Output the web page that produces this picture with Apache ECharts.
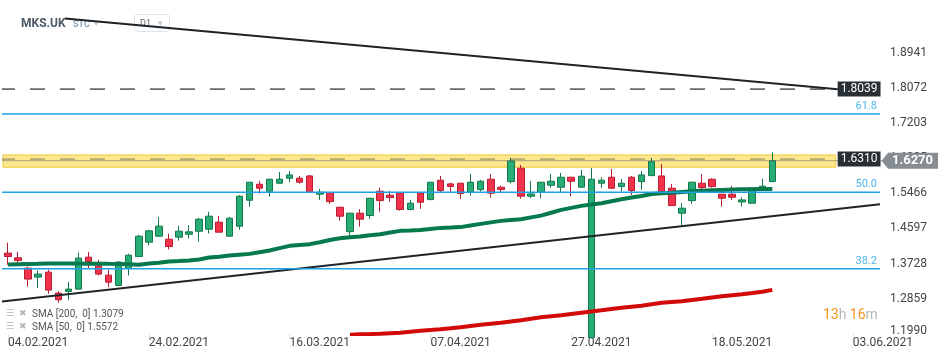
<!DOCTYPE html>
<html><head><meta charset="utf-8">
<script src="https://cdn.jsdelivr.net/npm/echarts@6/dist/echarts.min.js"></script>
<style>html,body{margin:0;padding:0;background:#fff}#c{width:950px;height:360px}</style>
</head><body><div id="c"></div>
<script>
// ---------- DATA ----------
const dates = [
'04.02.2021','05.02.2021','08.02.2021','09.02.2021','10.02.2021','11.02.2021','12.02.2021','15.02.2021','16.02.2021','17.02.2021','18.02.2021','19.02.2021','22.02.2021','23.02.2021','24.02.2021','25.02.2021','26.02.2021',
'01.03.2021','02.03.2021','03.03.2021','04.03.2021','05.03.2021','08.03.2021','09.03.2021','10.03.2021','11.03.2021','12.03.2021','15.03.2021','16.03.2021','17.03.2021','18.03.2021','19.03.2021','22.03.2021','23.03.2021','24.03.2021','25.03.2021','26.03.2021','29.03.2021','30.03.2021','31.03.2021',
'01.04.2021','06.04.2021','07.04.2021','08.04.2021','09.04.2021','12.04.2021','13.04.2021','14.04.2021','15.04.2021','16.04.2021','19.04.2021','20.04.2021','21.04.2021','22.04.2021','23.04.2021','26.04.2021','27.04.2021','28.04.2021','29.04.2021','30.04.2021',
'04.05.2021','05.05.2021','06.05.2021','07.05.2021','10.05.2021','11.05.2021','12.05.2021','13.05.2021','14.05.2021','17.05.2021','18.05.2021','19.05.2021','20.05.2021','21.05.2021','24.05.2021','25.05.2021','26.05.2021',
'27.05.2021','28.05.2021','29.05.2021','30.05.2021','31.05.2021','01.06.2021','02.06.2021','03.06.2021','04.06.2021','05.06.2021','06.06.2021'
];
const dateLabels = ['04.02.2021','24.02.2021','16.03.2021','07.04.2021','27.04.2021','18.05.2021','03.06.2021'];
// [open, close, low, high]
const candles = [
[1.3988,1.3904,1.3699,1.4248],[1.3871,1.3804,1.3723,1.4019],[1.3617,1.3346,1.3162,1.3657],[1.3395,1.3469,1.3124,1.3558],
[1.3518,1.3074,1.2983,1.3575],[1.3000,1.2835,1.2761,1.3049],[1.3041,1.3099,1.2835,1.3279],[1.3099,1.3864,1.3082,1.4002],
[1.3888,1.3779,1.3617,1.4019],[1.3674,1.3469,1.3440,1.3822],[1.3444,1.3271,1.3148,1.3575],[1.3189,1.3765,1.3181,1.3797],
[1.3607,1.3937,1.3435,1.3970],[1.3902,1.4406,1.3896,1.4439],[1.4258,1.4537,1.4175,1.4562],[1.4406,1.4653,1.4389,1.4883],
[1.4332,1.4150,1.4077,1.4463],[1.4382,1.4530,1.4298,1.4661],[1.4456,1.4513,1.4347,1.4678],[1.4529,1.4825,1.4274,1.4858],
[1.4579,1.4900,1.4470,1.5006],[1.4752,1.4505,1.4500,1.4907],[1.4406,1.4850,1.4389,1.4880],[1.4653,1.5393,1.4562,1.5420],
[1.5294,1.5739,1.5137,1.5745],[1.5689,1.5591,1.5457,1.5771],[1.5516,1.5813,1.5384,1.5820],[1.5714,1.5813,1.5697,1.5993],
[1.5837,1.5919,1.5739,1.6017],[1.5837,1.5739,1.5705,1.5894],[1.5894,1.5492,1.5487,1.5919],[1.5442,1.5492,1.5302,1.5573],
[1.5482,1.5259,1.5203,1.5490],[1.5121,1.4899,1.4792,1.5129],[1.4518,1.4974,1.4384,1.4981],[1.4974,1.4826,1.4643,1.5073],
[1.4917,1.5344,1.4833,1.5351],[1.5517,1.5285,1.5013,1.5606],[1.5418,1.5359,1.5260,1.5524],[1.5475,1.5063,1.5038,1.5480],
[1.5063,1.5220,1.5055,1.5302],[1.5475,1.5245,1.5080,1.5480],[1.5309,1.5739,1.5302,1.5745],[1.5788,1.5531,1.5492,1.5894],
[1.5697,1.5631,1.5492,1.5730],[1.5714,1.5457,1.5327,1.5722],[1.5492,1.5739,1.5408,1.5943],[1.5556,1.5763,1.5507,1.5795],
[1.5813,1.5467,1.5359,1.5943],[1.5615,1.5556,1.5467,1.5648],[1.5753,1.6264,1.5704,1.6345],[1.6084,1.5393,1.5334,1.6166],
[1.5393,1.5450,1.5343,1.5771],[1.5492,1.5739,1.5343,1.5745],[1.5664,1.5763,1.5605,1.5943],[1.5615,1.5862,1.5492,1.5968],
[1.5862,1.5763,1.5393,1.5870],[1.5615,1.5887,1.5610,1.6042],[1.1900,1.5813,1.1880,1.6087],[1.5714,1.5788,1.5598,1.5862],
[1.5862,1.5590,1.5585,1.6067],[1.5630,1.5714,1.5507,1.5820],[1.5862,1.5531,1.5425,1.5894],[1.5754,1.5919,1.5549,1.6017],
[1.5901,1.6247,1.5894,1.6338],[1.5894,1.5507,1.5482,1.6190],[1.5591,1.5161,1.5160,1.5697],[1.4974,1.5097,1.4685,1.5221],
[1.5284,1.5739,1.5203,1.5745],[1.5714,1.5605,1.5507,1.5943],[1.5813,1.5630,1.5605,1.5837],[1.5442,1.5344,1.5137,1.5450],
[1.5442,1.5367,1.5302,1.5648],[1.5253,1.5302,1.5137,1.5368],[1.5220,1.5591,1.5216,1.5598],[1.5581,1.5640,1.5578,1.5820],
[1.5754,1.6270,1.5751,1.6479]
];
const sma50 = [
1.3705,1.3715,1.3720,1.3723,1.3730,1.3730,1.3731,1.3730,1.3728,1.3726,
1.3722,1.3720,1.3712,1.3698,1.3730,1.3752,1.3779,1.3790,1.3804,1.3829,
1.3878,1.3900,1.3927,1.3948,1.3969,1.4010,1.4051,1.4110,1.4167,1.4190,
1.4209,1.4258,1.4310,1.4357,1.4377,1.4396,1.4428,1.4456,1.4497,1.4537,
1.4546,1.4556,1.4585,1.4611,1.4620,1.4630,1.4670,1.4710,1.4747,1.4784,
1.4805,1.4826,1.4870,1.4914,1.4985,1.5055,1.5105,1.5154,1.5188,1.5221,
1.5270,1.5319,1.5360,1.5400,1.5448,1.5465,1.5480,1.5499,1.5515,1.5531,
1.5540,1.5549,1.5556,1.5563,1.5568,1.5571,1.5572
];
const sma200 = [
null,null,null,null,null,null,null,null,null,null,null,null,null,null,null,null,null,
null,null,null,null,null,null,null,null,null,null,null,null,null,null,null,null,null,
1.1972,1.1981,1.1988,1.1996,1.2008,1.2020,1.2045,1.2070,1.2090,1.2107,
1.2130,1.2156,1.2190,1.2218,1.2243,1.2267,1.2298,1.2329,1.2368,1.2403,
1.2430,1.2452,1.2483,1.2514,1.2545,1.2575,1.2606,1.2637,1.2662,1.2687,
1.2725,1.2761,1.2780,1.2798,1.2830,1.2859,1.2890,1.2921,1.2946,1.2970,
1.3000,1.3032,1.3079
];
const yTicks = [1.1990,1.2859,1.3728,1.4597,1.5466,1.6335,1.7203,1.8072,1.8941];
const fibLevels = [61.8, 50.0, 38.2];
const fibPrices = [1.7424, 1.5492, 1.3599];
const resistance = 1.8039;
const zoneLevel = 1.6310;
const zoneTop = 1.6412;
const zoneBottom = 1.6109;
const lastPrice = 1.6270;
const downTrend = [1.9785, 1.8033];
const upTrend = [1.2790, 1.5196];

// ---------- CHART ----------
const N = dates.length;
const XL = -0.8;           // left edge of drawings (index units)
const showDate = (i, v) => dateLabels.indexOf(v) >= 0;
const boxLabel = (txt, bg, extra) => Object.assign({
  show:true, formatter: txt, backgroundColor: bg, color:'#fff', fontSize:12,
  fontFamily:'Roboto', padding:[2,3,1,3], distance:10
}, extra || {});
const hline = (y, x1, style, more) => Object.assign({
  type:'line', xAxisIndex:1, symbol:'none', silent:true, clip:false, z:3,
  data:[[XL,y],[x1,y]], lineStyle:style
}, more || {});

const series = [
  {type:'candlestick', data:candles, barWidth:7, z:2, clip:true,
   itemStyle:{color:'#27ad75', color0:'#f2314b', borderColor:'#12784a', borderColor0:'#b71d33', borderWidth:1}},
  {type:'line', xAxisIndex:1, symbol:'none', z:3, clip:true, silent:true,
   data: sma200.map((v,i)=>[i,v]).filter(p=>p[1]!==null),
   lineStyle:{color:'#d30a0a', width:4}},
  {type:'line', xAxisIndex:1, symbol:'none', z:3, clip:true, silent:true,
   data: sma50.map((v,i)=>[i,v]),
   lineStyle:{color:'#067a4c', width:4}},
  {type:'line', xAxisIndex:1, symbol:'none', z:3, clip:false, silent:true,
   data:[[5.66,downTrend[0]],[82.5,downTrend[1]]], lineStyle:{color:'#1d2429', width:2}},
  {type:'line', xAxisIndex:1, symbol:'none', z:3, clip:false, silent:true,
   data:[[XL,upTrend[0]],[86.7,upTrend[1]]], lineStyle:{color:'#1d2429', width:2}},
];
fibPrices.forEach(p => series.push(hline(p, 86.7, {color:'#1ea1e6', width:1.5})));
series.push({
  type:'scatter', xAxisIndex:1, symbolSize:0, z:5, silent:true,
  data: fibPrices.map((p,k)=>({value:[86.7,p], label:{formatter: fibLevels[k].toFixed(1)}})),
  label:{show:true, position:'top', align:'right', distance:2, offset:[-3,0], color:'#1ea1e6', fontSize:11, fontFamily:'Roboto'}
});
// last price line with arrow label
series.push(hline(lastPrice, 86.9, {color:'rgba(100,100,100,0.55)', width:1}, {
  z:3,
  endLabel: boxLabel(lastPrice.toFixed(4), '#868e93', {fontSize:13, fontWeight:'bold', padding:[2,5,1,4], distance:6}),
  markPoint:{silent:true, symbol:'triangle', symbolRotate:90, symbolSize:[17,7],
    itemStyle:{color:'#868e93'}, label:{show:false}, data:[{coord:[87.2,lastPrice]}]}
}));
// resistance dashed line
series.push(hline(resistance, 81.5, {color:'#262626', width:1.2, type:[15,15]}, {
  z:4, endLabel: boxLabel(resistance.toFixed(4), '#283036')
}));
// yellow zone
series.push(hline(zoneLevel, 81.5, {color:'rgba(60,60,60,0.5)', width:1.2, type:[15,15]}, {
  z:4, endLabel: boxLabel(zoneLevel.toFixed(4), '#283036'),
  markArea:{silent:true, label:{show:false}, itemStyle:{color:'rgba(252,214,50,0.55)', borderColor:'#efc83c', borderWidth:1},
    data:[[{coord:[XL,zoneTop]},{coord:[82.3,zoneBottom]}]]}
}));

const option = {
  backgroundColor:'#fff',
  animation:false,
  tooltip:{show:false},
  textStyle:{fontFamily:'Roboto'},
  grid:{left:3, right:62, top:0, bottom:26},
  xAxis:[
    {type:'category', data:dates, boundaryGap:true,
     axisLine:{show:false},
     axisTick:{show:true, alignWithLabel:true, interval:showDate, length:5, lineStyle:{color:'#e2e2e2'}},
     axisLabel:{interval:showDate, align:'left', color:'#444', fontSize:12, margin:3, fontFamily:'Roboto'},
     splitLine:{show:false}},
    {type:'value', min:-0.5, max:N-0.5, show:false,
     axisLine:{show:false}, axisTick:{show:false}, axisLabel:{show:false}, splitLine:{show:false}}
  ],
  yAxis:{type:'value', position:'right', offset:-6, min:1.1990, max:2.0239,
    axisLine:{show:false}, splitLine:{show:false}, axisTick:{show:false},
    axisLabel:{customValues:yTicks, color:'#444', fontSize:12, margin:8, fontFamily:'Roboto',
      formatter:v=> v === yTicks[0] ? '{lo|' + v.toFixed(4) + '}' : v.toFixed(4),
      rich:{lo:{color:'#444', fontSize:12, fontFamily:'Roboto', padding:[0,0,7,0]}}}},
  graphic:[
    {type:'text', x:21, y:23.5, z:0, style:{text:'MKS.UK', font:'bold 12px Roboto', fill:'#4e5a65', verticalAlign:'middle'}},
    {type:'text', x:73, y:24.5, z:0, style:{text:'STC', font:'bold 9px Roboto', fill:'#8fa3b5', verticalAlign:'middle'}},
    {type:'text', x:94, y:24, z:0, style:{text:'▾', font:'9px "DejaVu Sans"', fill:'#c3c8cc', verticalAlign:'middle'}},
    {type:'rect', z:0, shape:{x:134.5, y:14.5, width:35, height:17, r:3}, style:{fill:'#fff', stroke:'#e1e4e7', lineWidth:1}},
    {type:'text', x:140, y:23.5, z:0, style:{text:'D1', font:'9px Roboto', fill:'#5a6570', verticalAlign:'middle'}},
    {type:'text', x:158, y:23.5, z:0, style:{text:'▾', font:'9px "DejaVu Sans"', fill:'#c3c8cc', verticalAlign:'middle'}},
    {type:'text', x:6, y:314, z:0, style:{text:'☰', font:'9px "DejaVu Sans"', fill:'#b5b5b5', verticalAlign:'middle'}},
    {type:'text', x:19, y:314, z:0, style:{text:'✖', font:'9px "DejaVu Sans"', fill:'#b5b5b5', verticalAlign:'middle'}},
    {type:'text', x:32, y:314, z:0, style:{text:'SMA [200,  0] ' + sma200[sma200.length-1].toFixed(4), font:'10px Roboto', fill:'#555', verticalAlign:'middle'}},
    {type:'text', x:6, y:327, z:0, style:{text:'☰', font:'9px "DejaVu Sans"', fill:'#b5b5b5', verticalAlign:'middle'}},
    {type:'text', x:19, y:327, z:0, style:{text:'✖', font:'9px "DejaVu Sans"', fill:'#b5b5b5', verticalAlign:'middle'}},
    {type:'text', x:32, y:327, z:0, style:{text:'SMA [50,  0] ' + sma50[sma50.length-1].toFixed(4), font:'10px Roboto', fill:'#555', verticalAlign:'middle'}},
    {type:'text', x:823, y:315, z:0, style:{text:'{o|13}{g|h} {o|16}{g|m}', verticalAlign:'middle',
      rich:{o:{fill:'#f5951f', fontSize:14, fontFamily:'Roboto'}, g:{fill:'#b8b8b8', fontSize:14, fontFamily:'Roboto'}}}}
  ],
  series: series
};
const chart = echarts.init(document.getElementById('c'), null, {renderer:'canvas'});
chart.setOption(option);
</script>
</body></html>
